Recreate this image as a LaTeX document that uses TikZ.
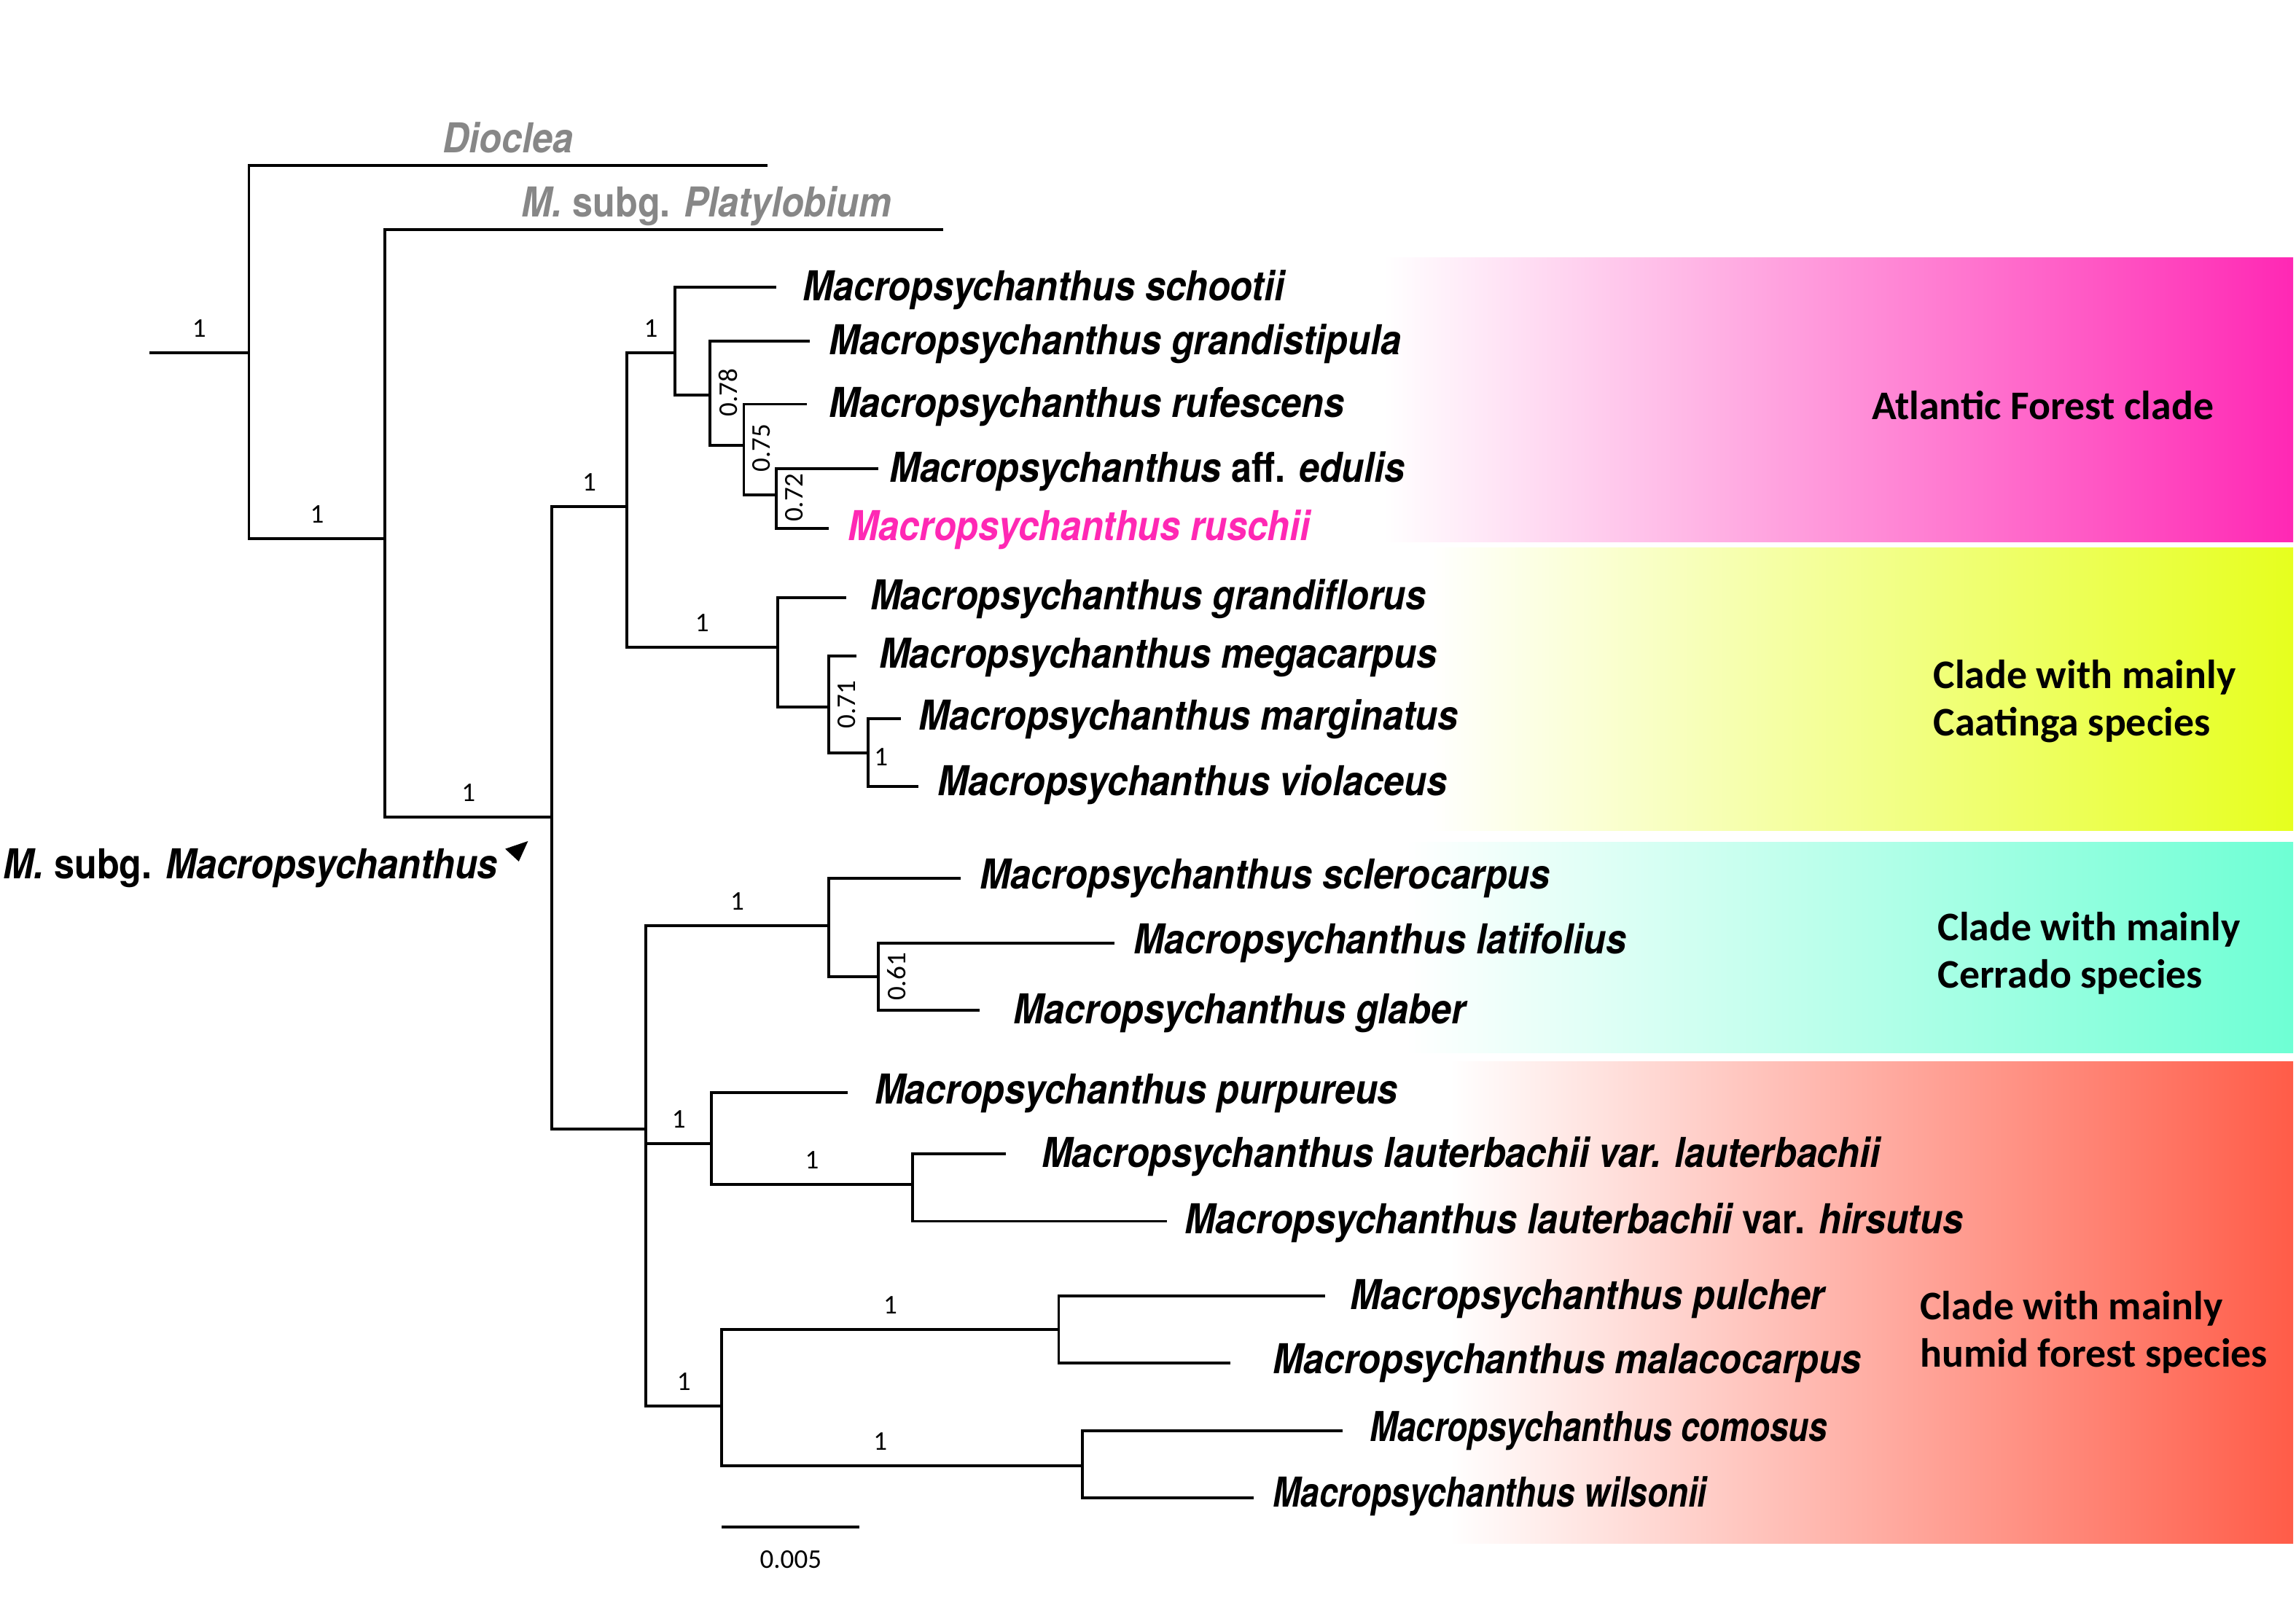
\documentclass[tikz,border=0pt]{standalone}
\usepackage{fontspec}
\setmainfont{Carlito}
\newfontfamily\spfont[FakeStretch=0.89]{TeX Gyre Heros}
\usetikzlibrary{positioning,calc}
\definecolor{atlmag}{RGB}{255,40,180}
\definecolor{caayel}{RGB}{230,255,30}
\definecolor{certeal}{RGB}{110,255,212}
\definecolor{humred}{RGB}{255,92,72}
\definecolor{outgray}{RGB}{135,135,135}

\begin{document}
\begin{tikzpicture}[x=0.02cm,y=-0.02cm,
 br/.style={line width=1.1pt},
 sp/.style={font=\spfont\bfseries\itshape\fontsize{16}{18}\selectfont,anchor=west,inner sep=0pt,yshift=-1.1pt},
 pp/.style={font=\fontsize{10.5}{12}\selectfont,inner sep=1.5pt},
 up/.style={pp,above=4pt},
 vp/.style={pp,rotate=90,anchor=north,inner sep=1pt},
 clade/.style={font=\bfseries\fontsize{15.8}{18.4}\selectfont,align=left,anchor=west,inner sep=0pt}]
\useasboundingbox (0,0) rectangle (1568,1096);

% coloured clade boxes
\shade[left color=white,right color=atlmag] (945,176) rectangle (1566,370);
\shade[left color=white,right color=caayel] (975,374) rectangle (1566,567);
\shade[left color=white,right color=certeal] (960,575) rectangle (1566,719);
\shade[left color=white,right color=humred] (990,725) rectangle (1566,1054);
\node[clade] (atl) at (1278,277) {Atlantic Forest clade};
\node[clade] (caa) at (1320,479) {Clade with mainly\\Caatinga species};
\node[clade] (cer) at (1323,651) {Clade with mainly\\Cerrado species};
\node[clade] (hum) at (1311,910) {Clade with mainly\\humid forest species};

% internal nodes
\coordinate (root) at (102,241);
\coordinate (nA) at (170,241);
\coordinate (nB) at (263,368);
\coordinate (nC) at (377,558);
\coordinate (nD) at (428,346);
\coordinate (nE) at (461,241);
\coordinate (nF) at (485,270);
\coordinate (nG) at (508,304);
\coordinate (nH) at (530,338);
\coordinate (nI) at (531,442);
\coordinate (nJ) at (566,483);
\coordinate (nK) at (593,514);
\coordinate (nL) at (441,771);
\coordinate (nM) at (566,632);
\coordinate (nN) at (600,667);
\coordinate (nO) at (486,781);
\coordinate (nP) at (623,809);
\coordinate (nQ) at (493,960);
\coordinate (nR) at (723,908);
\coordinate (nS) at (739,1001);

% tips
\coordinate (dioclea) at (524,113);
\coordinate (platy) at (644,157);
\coordinate (schootii) at (530,196);
\coordinate (grandistipula) at (553,233);
\coordinate (rufescens) at (551,276);
\coordinate (edulis) at (600,320);
\coordinate (ruschii) at (566,361);
\coordinate (grandiflorus) at (578,408);
\coordinate (megacarpus) at (585,448);
\coordinate (marginatus) at (615,491);
\coordinate (violaceus) at (627,537);
\coordinate (sclerocarpus) at (656,600);
\coordinate (latifolius) at (761,644);
\coordinate (glaber) at (669,690);
\coordinate (purpureus) at (579,746);
\coordinate (lauterbachii) at (687,788);
\coordinate (hirsutus) at (797,834);
\coordinate (pulcher) at (905,885);
\coordinate (malacocarpus) at (840,931);
\coordinate (comosus) at (917,977);
\coordinate (wilsonii) at (856,1023);

% branches
\draw[br] (root) -- (nA) node[up,midway]{1};
\draw[br] (nA) |- (dioclea);
\draw[br] (nA) |- (nB) node[up,pos=.75]{1};
\draw[br] (nB) |- (platy);
\draw[br] (nB) |- (nC) node[up,pos=.75]{1};
\draw[br] (nC) |- (nD) node[up,pos=.75]{1};
\draw[br] (nC) |- (nL);
\draw[br] (nD) |- (nE) node[up,pos=.75]{1};
\draw[br] (nD) |- (nI) node[up,pos=.75]{1};
\draw[br] (nE) |- (schootii);
\draw[br] (nE) |- (nF);
\draw[br] (nF) |- (grandistipula);
\draw[br] (nF) |- (nG);
\draw[br] (nG) |- (rufescens);
\draw[br] (nG) |- (nH);
\draw[br] (nH) |- (edulis);
\draw[br] (nH) |- (ruschii);
\draw[br] (nI) |- (grandiflorus);
\draw[br] (nI) |- (nJ);
\draw[br] (nJ) |- (megacarpus);
\draw[br] (nJ) |- (nK);
\draw[br] (nK) |- (marginatus);
\draw[br] (nK) |- (violaceus);
\draw[br] (nL) |- (nM) node[up,pos=.75]{1};
\draw[br] (nL) |- (nO) node[up,pos=.75]{1};
\draw[br] (nL) |- (nQ) node[up,pos=.75]{1};
\draw[br] (nM) |- (sclerocarpus);
\draw[br] (nM) |- (nN);
\draw[br] (nN) |- (latifolius);
\draw[br] (nN) |- (glaber);
\draw[br] (nO) |- (purpureus);
\draw[br] (nO) |- (nP) node[up,pos=.75]{1};
\draw[br] (nP) |- (lauterbachii);
\draw[br] (nP) |- (hirsutus);
\draw[br] (nQ) |- (nR) node[up,pos=.75]{1};
\draw[br] (nQ) |- (nS) node[up,pos=.72]{1};
\draw[br] (nR) |- (pulcher);
\draw[br] (nR) |- (malacocarpus);
\draw[br] (nS) |- (comosus);
\draw[br] (nS) |- (wilsonii);

% support values beside short branches
\node[vp] (pF) at ($(nF)+(4,-2)$) {0.78};
\node[vp] (pG) at ($(nG)+(4,2)$) {0.75};
\node[vp] (pH) at ($(nH)+(4,2)$) {0.72};
\node[vp] (pJ) at ($(nJ)+(4,-2)$) {0.71};
\node[vp] (pN) at ($(nN)+(4,0)$) {0.61};
\node[pp,anchor=west] (pK) at ($(nK)+(1,3)$) {1};

% taxon names
\node[sp,text=outgray] (l-dioclea) at (302,92) {Dioclea};
\node[sp,text=outgray] (l-platy) at (356,139) {M. {\upshape subg.} Platylobium};
\node[sp] (l-schootii) at (548,196) {Macropsychanthus schootii};
\node[sp] (l-grandistipula) at (566,233) {Macropsychanthus grandistipula};
\node[sp] (l-rufescens) at (566,276) {Macropsychanthus rufescens};
\node[sp] (l-edulis) at (607,320) {Macropsychanthus {\upshape aff.} edulis};
\node[sp,text=atlmag] (l-ruschii) at (579,360) {Macropsychanthus ruschii};
\node[sp] (l-grandiflorus) at (594,407) {Macropsychanthus grandiflorus};
\node[sp] (l-megacarpus) at (600,447) {Macropsychanthus megacarpus};
\node[sp] (l-marginatus) at (627,489) {Macropsychanthus marginatus};
\node[sp] (l-violaceus) at (640,534) {Macropsychanthus violaceus};
\node[sp] (l-sclerocarpus) at (669,598) {Macropsychanthus sclerocarpus};
\node[sp] (l-latifolius) at (774,642) {Macropsychanthus latifolius};
\node[sp] (l-glaber) at (692,690) {Macropsychanthus glaber};
\node[sp] (l-purpureus) at (597,745) {Macropsychanthus purpureus};
\node[sp] (l-lauterbachii) at (711,788) {Macropsychanthus lauterbachii var. lauterbachii};
\node[sp] (l-hirsutus) at (809,833) {Macropsychanthus lauterbachii {\upshape var.} hirsutus};
\node[sp] (l-pulcher) at (922,885) {Macropsychanthus pulcher};
\node[sp] (l-malacocarpus) at (869,929) {Macropsychanthus malacocarpus};
\node[sp] (l-comosus) at (935,975) {\scalebox{0.91}[1]{Macropsychanthus comosus}};
\node[sp] (l-wilsonii) at (869,1020) {\scalebox{0.91}[1]{Macropsychanthus wilsonii}};

% subgenus label and pointer
\node[sp] (subg) at (2,591) {M. {\upshape subg.} Macropsychanthus};
\fill (360.6,574.4) -- (345,579.7) -- (354.3,588.3) -- cycle;

% scale bar
\coordinate (sb1) at (493,1043);
\coordinate (sb2) at (587,1043);
\draw[br] (sb1) -- (sb2) node[pp,midway,below=7pt] (sbl) {0.005};
\end{tikzpicture}
\end{document}
